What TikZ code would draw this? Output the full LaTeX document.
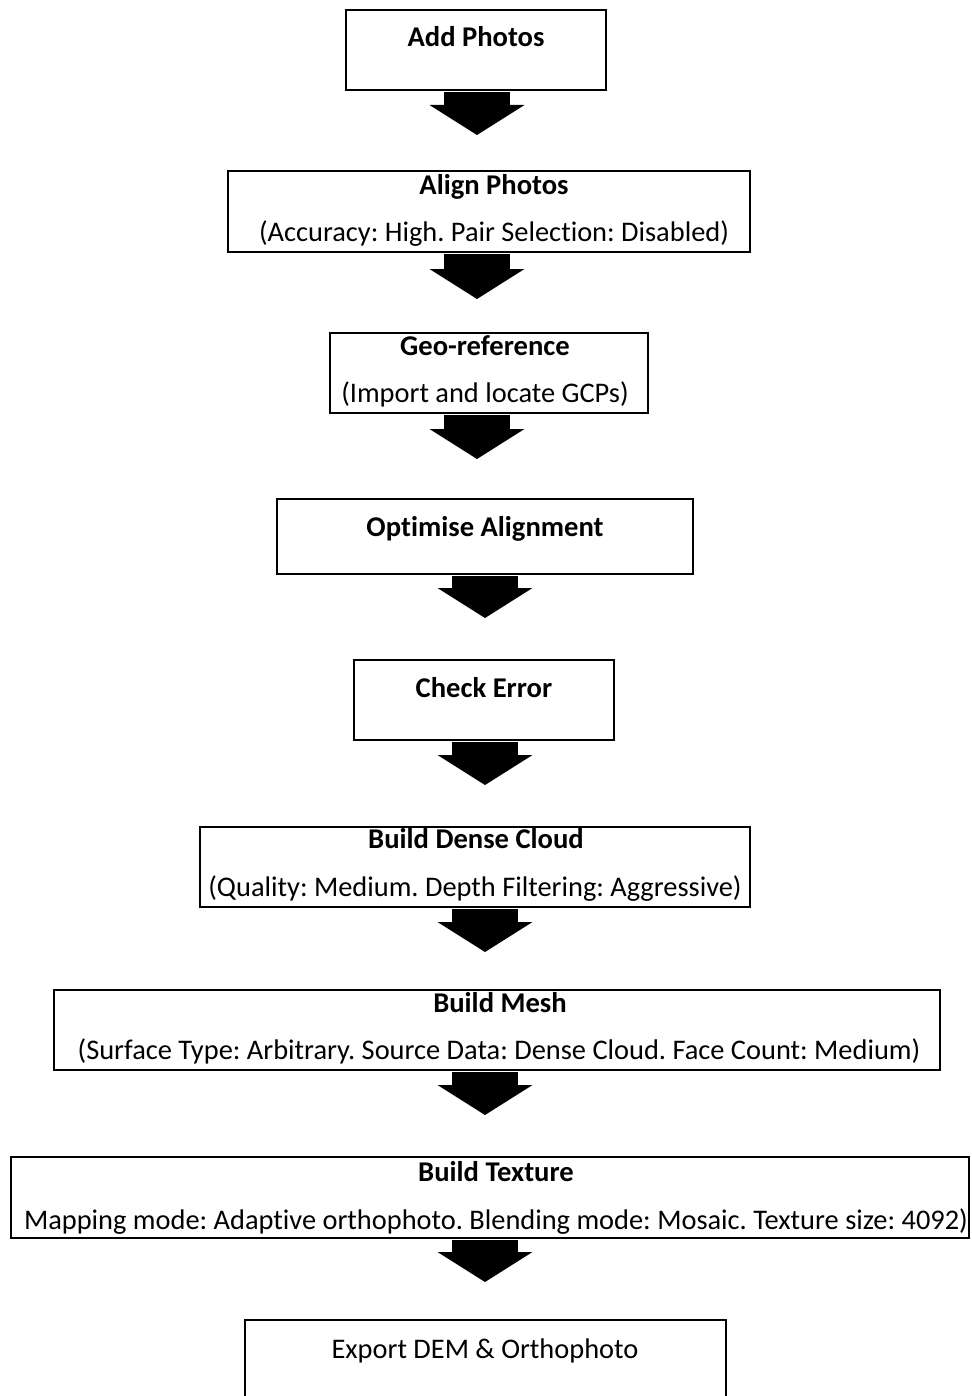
\documentclass[tikz,border=0pt]{standalone}
\usepackage{fontspec}
\setmainfont[RawFeature={-liga}]{Carlito}
\frenchspacing
\usetikzlibrary{arrows.meta}
\tikzset{
  box/.style={draw=black, line width=1pt, fill=none, inner sep=0pt, outer sep=0pt},
  ttl/.style={font=\fontsize{14.3}{16}\selectfont\bfseries, inner sep=0pt, anchor=base},
  sub/.style={font=\fontsize{14.2}{16}\selectfont, inner sep=0pt, anchor=base},
  blk/.style={line width=33pt, -{Triangle[width=47.5pt,length=15pt,line width=0pt]}, shorten <=1pt}
}
\newcommand\pbox[5]{\node[box, minimum width={(#4-#2)*0.5pt}, minimum height={(#5-#3)*0.5pt}] (#1) at ({(#2+#4)/2},{(#3+#5)/2}) {};}
\begin{document}
\begin{tikzpicture}[x=0.5pt,y=-0.5pt]
\useasboundingbox (0,0) rectangle (971,1396);
\clip (0,0) rectangle (971,1396);
\pbox{b1}{346}{10}{606}{90}
\pbox{b2}{228}{171}{750}{252}
\pbox{b3}{330}{333}{648}{413}
\pbox{b4}{277}{499}{693}{574}
\pbox{b5}{354}{660}{614}{740}
\pbox{b6}{200}{827}{750}{907}
\pbox{b7}{54}{990}{940}{1070}
\pbox{b8}{11}{1157}{969}{1238}
\pbox{b9}{245}{1320}{726}{1420}
\node[ttl] (t1) at (476,47) {Add Photos};
\node[ttl] (t2) at (494,195) {Align Photos};
\node[sub] (s2) at (494,242) {(Accuracy: High. Pair Selection: Disabled)};
\node[ttl] (t3) at (485,355) {Geo-reference};
\node[sub] (s3) at (485,402) {(Import and locate GCPs)};
\node[ttl] (t4) at (485,536) {Optimise Alignment};
\node[ttl] (t5) at (484,697) {Check Error};
\node[ttl] (t6) at (476,848) {Build Dense Cloud};
\node[sub] (s6) at (475,896) {(Quality: Medium. Depth Filtering: Aggressive)};
\node[ttl] (t7) at (500,1012) {Build Mesh};
\node[sub] (s7) at (499,1059) {(Surface Type: Arbitrary. Source Data: Dense Cloud. Face Count: Medium)};
\node[ttl] (t8) at (496,1181) {Build Texture};
\node[sub] (s8) at (496,1229) {Mapping mode: Adaptive orthophoto. Blending mode: Mosaic. Texture size: 4092)};
\node[sub] (t9) at (485,1358) {Export DEM \& Orthophoto};
\coordinate (ax) at (477,0);
\coordinate (bx) at (485,0);
\draw[blk, shorten >=18pt] (b1.south -| ax) -- (b2.north -| ax);
\draw[blk, shorten >=17pt] (b2.south -| ax) -- (b3.north -| ax);
\draw[blk, shorten >=20pt] (b3.south -| ax) -- (b4.north -| ax);
\draw[blk, shorten >=21pt] (b4.south -| bx) -- (b5.north -| bx);
\draw[blk, shorten >=21pt] (b5.south -| bx) -- (b6.north -| bx);
\draw[blk, shorten >=19pt] (b6.south -| bx) -- (b7.north -| bx);
\draw[blk, shorten >=21pt] (b7.south -| bx) -- (b8.north -| bx);
\draw[blk, shorten >=19pt] (b8.south -| bx) -- (b9.north -| bx);
\end{tikzpicture}
\end{document}
